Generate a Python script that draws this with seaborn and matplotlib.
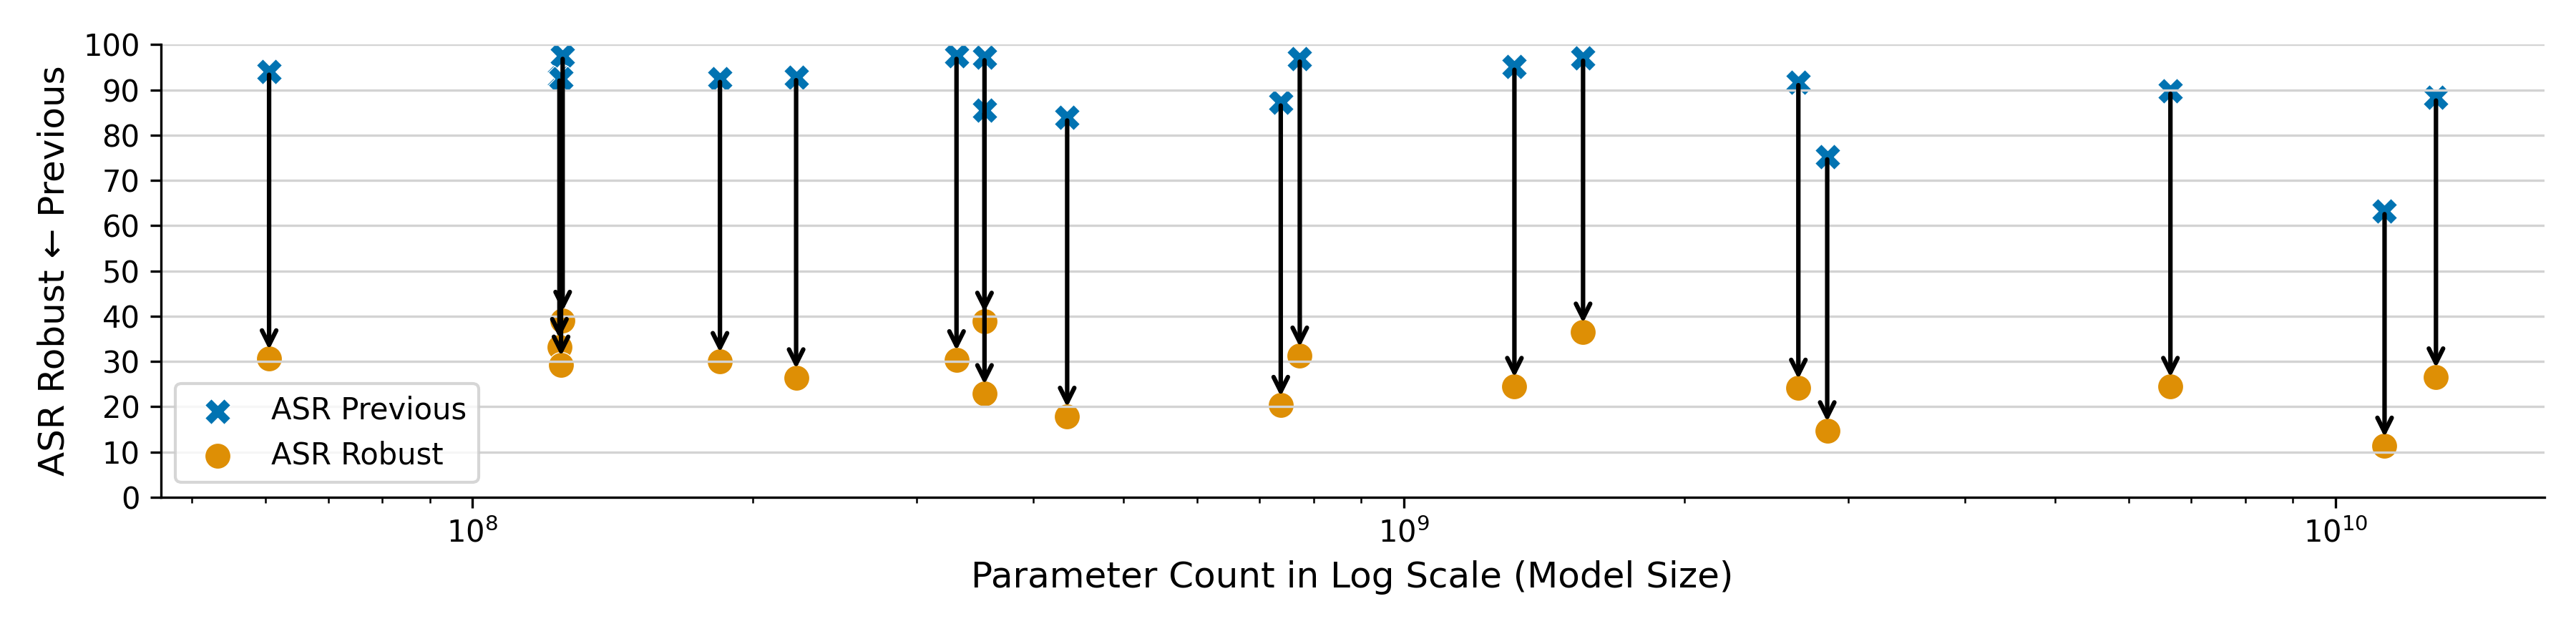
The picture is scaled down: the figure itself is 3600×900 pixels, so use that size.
import matplotlib
matplotlib.use("Agg")
import matplotlib.pyplot as plt
import seaborn as sns
import numpy as np
import pandas as pd

# ---- data ----
param_count = [6.05e7, 1.25e8, 1.24e8, 1.245e8, 1.844e8, 2.226e8, 3.309e8, 3.546e8,
               3.546e8, 4.35e8, 7.375e8, 7.73e8, 1.314e9, 1.557e9, 2.651e9, 2.847e9,
               6.65e9, 1.129e10, 1.282e10]
asr_previous = [94.0, 97.5, 92.7, 92.5, 92.4, 92.8, 97.5, 97.2,
                85.5, 83.9, 87.2, 96.9, 95.1, 97.1, 91.7, 75.3,
                89.8, 63.2, 88.3]
asr_robust = [30.6, 39.1, 33.1, 29.2, 30.0, 26.4, 30.4, 38.9,
              22.9, 17.9, 20.3, 31.2, 24.5, 36.5, 24.1, 14.7,
              24.5, 11.3, 26.6]
y_ticks = list(range(0, 101, 10))

colors = sns.color_palette("colorblind")
df = pd.DataFrame({"params": param_count, "prev": asr_previous, "robust": asr_robust})

fig = plt.figure(figsize=(12, 3), dpi=300)
ax = fig.add_axes([0.0624, 0.228, 0.9253, 0.7027])

sns.scatterplot(data=df, x="params", y="prev", marker="X", s=75, color=colors[0],
                edgecolor="white", linewidth=0.3, label="ASR Previous", ax=ax, zorder=1)
sns.scatterplot(data=df, x="params", y="robust", marker="o", s=75, color=colors[1],
                edgecolor="white", linewidth=0.3, label="ASR Robust", ax=ax, zorder=1)

for xv, yp, yr in zip(df["params"], df["prev"], df["robust"]):
    ax.annotate("", xy=(xv, yr), xytext=(xv, yp),
                arrowprops=dict(arrowstyle="->", color="black", lw=1.5,
                                mutation_scale=12, shrinkA=1, shrinkB=3))

ax.set_xscale("log")
ax.set_ylim(0, 100)
ax.set_yticks(y_ticks)
ax.yaxis.grid(True, color="lightgray", linewidth=0.8)
ax.xaxis.grid(False)
ax.spines["top"].set_visible(False)
ax.spines["right"].set_visible(False)
ax.tick_params(labelsize=10)
ax.set_xlabel("Parameter Count in Log Scale (Model Size)", fontsize=12)
ax.set_ylabel("ASR Robust ← Previous", fontsize=12)
ax.legend(loc="lower left", fontsize=10)

fig.savefig("out.png", dpi=300)
